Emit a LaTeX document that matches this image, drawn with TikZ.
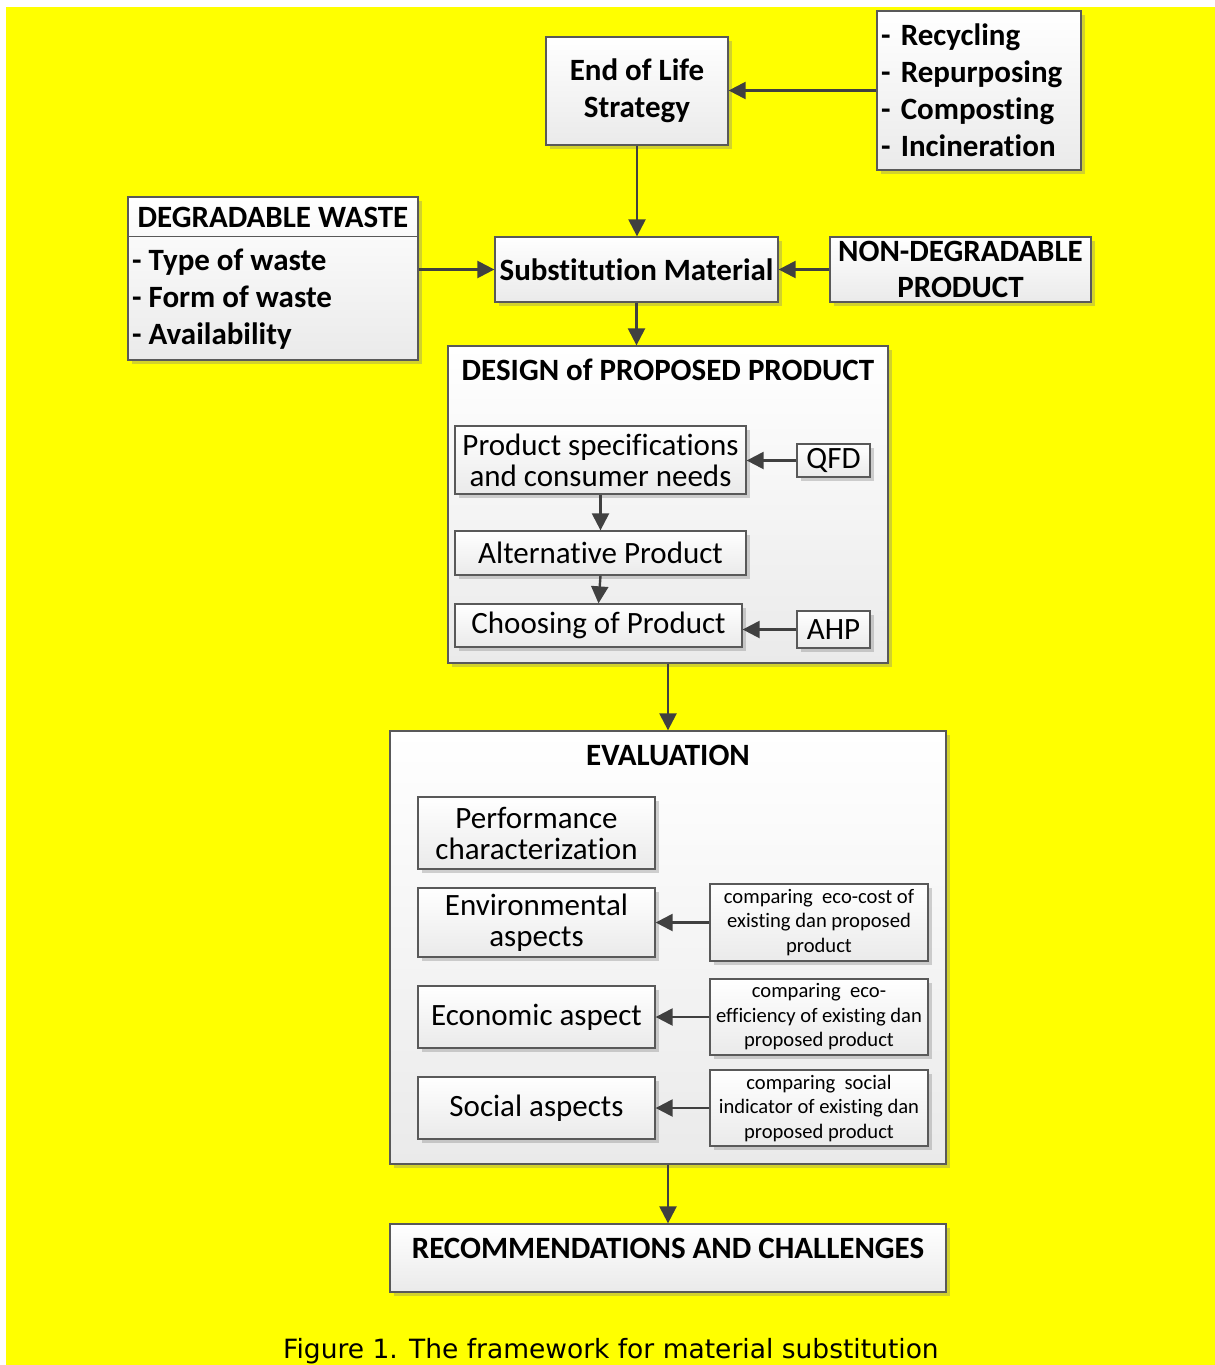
\documentclass[tikz,border=0pt]{standalone}
\usepackage{fontspec}
\setmainfont{Carlito}[Ligatures=NoCommon]
\newfontfamily\capfont{DejaVu Sans}
\usetikzlibrary{arrows.meta,shadows}
\definecolor{ylw}{HTML}{FFFF00}
\definecolor{edge}{HTML}{595959}
\definecolor{arr}{HTML}{404040}
\definecolor{boxbot}{HTML}{EAEAEA}
\tikzset{
  box/.style={draw=edge, line width=1.3pt, top color=white, bottom color=boxbot,
    inner sep=0pt, align=center,
    drop shadow={shadow xshift=3.5pt, shadow yshift=-3.5pt, fill=gray, opacity=0.35}},
  big/.style={font=\fontsize{31}{37}\selectfont\bfseries},
  reg/.style={font=\fontsize{31}{31}\selectfont},
  small/.style={font=\fontsize{20.6}{24.5}\selectfont},
  txt/.style={inner sep=0pt},
  conn/.style={draw=arr, line width=2.4pt, -{Triangle[length=17pt,width=17pt]}},
}
\begin{document}
\begin{tikzpicture}[x=1pt,y=-1pt]
\useasboundingbox (0,0) rectangle (1215,1365);
\fill[white] (0,0) rectangle (1215,1365);
\fill[ylw] (6,7) rectangle (1215,1365);

% top part
\node[box, big, minimum width=182pt, minimum height=108pt] (eol) at (637,91) {End of Life\\Strategy};
\node[box, big, minimum width=204pt, minimum height=159pt, text width=196pt, align=left] (rec) at (979,90.5)
  {- Recycling\\- Repurposing\\- Composting\\- Incineration};
\node[box, minimum width=290pt, minimum height=163pt] (deg) at (273,278.5) {};
\draw[draw=edge, line width=1.3pt] ([yshift=-40pt]deg.north west) -- ([yshift=-40pt]deg.north east);
\node[txt, big] (degt) at (273,217) {DEGRADABLE WASTE};
\node[txt, big, anchor=west, align=left] (degl) at (132,299) {- Type of waste\\- Form of waste\\- Availability};
\node[box, big, minimum width=283pt, minimum height=65pt] (sub) at (636.5,269.5) {Substitution Material};
\node[box, big, minimum width=261pt, minimum height=65pt, font=\fontsize{31}{36}\selectfont\bfseries] (nond) at (960.5,269.5) {NON-DEGRADABLE\\PRODUCT};

% design
\node[box, minimum width=440pt, minimum height=317pt] (design) at (668,504.5) {};
\node[txt, big] (designt) at (668,370) {DESIGN of PROPOSED PRODUCT};
\node[box, reg, minimum width=291pt, minimum height=68pt] (ps) at (600.5,460) {Product specifications\\and consumer needs};
\node[box, reg, minimum width=73pt, minimum height=33pt] (qfd) at (833.5,460.5) {QFD};
\node[box, reg, minimum width=291pt, minimum height=44pt] (alt) at (600.5,553) {Alternative Product};
\node[box, reg, minimum width=287pt, minimum height=43pt] (choose) at (598.5,625.5) {Choosing of Product};
\node[box, reg, minimum width=73pt, minimum height=37pt] (ahp) at (833.5,629.5) {AHP};

% evaluation
\node[box, minimum width=556pt, minimum height=433pt] (eval) at (668,947.5) {};
\node[txt, big] (evalt) at (668,755) {EVALUATION};
\node[box, reg, minimum width=237pt, minimum height=72pt] (perf) at (536.5,833) {Performance\\characterization};
\node[box, reg, minimum width=237pt, minimum height=69pt] (env) at (536.5,922.5) {Environmental\\aspects};
\node[box, reg, minimum width=237pt, minimum height=62pt] (econ) at (536.5,1017) {Economic aspect};
\node[box, reg, minimum width=237pt, minimum height=62pt] (soc) at (536.5,1108) {Social aspects};
\node[box, small, minimum width=218pt, minimum height=77pt] (c1) at (819,922.5) {comparing~ eco-cost of\\existing dan proposed\\product};
\node[box, small, minimum width=218pt, minimum height=76pt] (c2) at (819,1017) {comparing~ eco-\\efficiency of existing dan\\proposed product};
\node[box, small, minimum width=218pt, minimum height=76pt] (c3) at (819,1108) {comparing~ social\\indicator of existing dan\\proposed product};

% recommendations
\node[box, minimum width=556pt, minimum height=68pt] (recs) at (668,1258) {};
\node[txt, big] (recst) at (668,1248) {RECOMMENDATIONS AND CHALLENGES};

% caption
\node[txt, font=\capfont\fontsize{26.5}{30}\selectfont] (cap) at (611,1351) {Figure 1. The framework for material substitution};

% connectors
\draw[conn] (rec.west) -- (rec.west -| eol.east);
\draw[conn] (eol.south) -- (eol.south |- sub.north);
\draw[conn] (deg.east |- sub.west) -- (sub.west);
\draw[conn] (nond.west) -- (sub.east);
\draw[conn] (sub.south) -- (sub.south |- design.north);
\draw[conn] (qfd.west) -- (qfd.west -| ps.east);
\draw[conn] (ps.south) -- (ps.south |- alt.north);
\draw[conn] (alt.south) -- (choose.north);
\draw[conn] (ahp.west) -- (ahp.west -| choose.east);
\draw[conn] (design.south) -- (eval.north);
\draw[conn] (c1.west) -- (env.east);
\draw[conn] (c2.west) -- (econ.east);
\draw[conn] (c3.west) -- (soc.east);
\draw[conn] (eval.south) -- (recs.north);
\end{tikzpicture}
\end{document}
